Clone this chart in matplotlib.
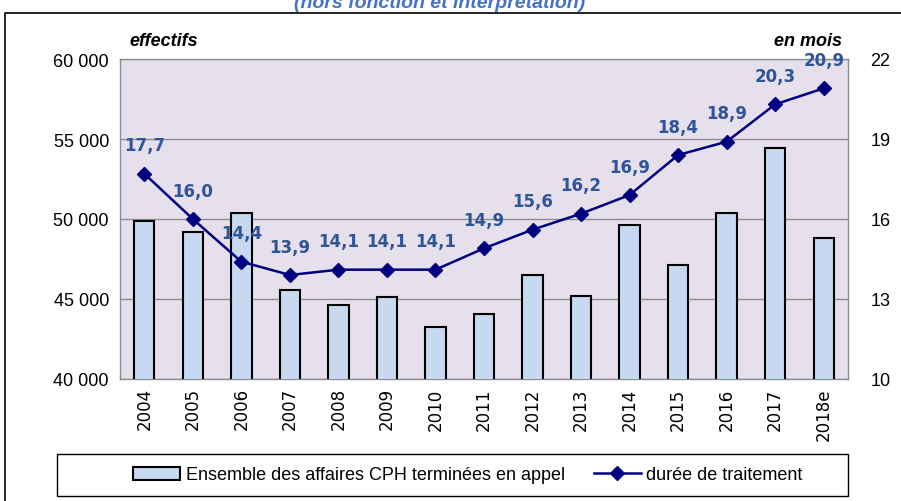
import matplotlib
matplotlib.use("Agg")
import matplotlib.pyplot as plt
from matplotlib.lines import Line2D
from matplotlib.patches import Patch, Rectangle

years = ["2004", "2005", "2006", "2007", "2008", "2009", "2010", "2011",
         "2012", "2013", "2014", "2015", "2016", "2017", "2018e"]
affaires = [49850, 49200, 50350, 45550, 44650, 45100, 43250, 44050,
            46500, 45200, 49600, 47100, 50350, 54450, 48800]
duree = [17.7, 16.0, 14.4, 13.9, 14.1, 14.1, 14.1, 14.9,
         15.6, 16.2, 16.9, 18.4, 18.9, 20.3, 20.9]
left_ticks = [40000, 45000, 50000, 55000, 60000]
right_ticks = [10, 13, 16, 19, 22]

W, H = 901, 502
fig = plt.figure(figsize=(W / 100, H / 100), dpi=100)
ax = fig.add_axes([120 / W, 1 - 380 / H, 728 / W, 320 / H])
ax.set_facecolor("#E6E0EC")

x = list(range(len(years)))
ax.bar(x, affaires, width=0.42, color="#C6D9F1", edgecolor="black",
       linewidth=1.5, zorder=3)
ax.set_xlim(-0.5, len(years) - 0.5)
ax.set_ylim(40000, 60000)
ax.set_yticks(left_ticks)
ax.set_yticklabels([f"{v:,}".replace(",", " ") for v in left_ticks],
                   fontsize=13, family="Liberation Sans")
ax.yaxis.grid(True, color="#8C8C8C", linewidth=1, zorder=0)
ax.set_axisbelow(True)
ax.set_xticks(x)
ax.set_xticklabels(years, rotation=90, fontsize=12, family="DejaVu Sans")
ax.tick_params(axis="both", length=0, pad=8)
ax.tick_params(axis="x", pad=6)
for s in ["top", "right", "left", "bottom"]:
    ax.spines[s].set_color("#8C8C8C")
    ax.spines[s].set_linewidth(1.0)

ax2 = ax.twinx()
ax2.set_ylim(10, 22)
ax2.set_yticks(right_ticks)
ax2.set_yticklabels([str(v) for v in right_ticks], fontsize=13,
                    family="Liberation Sans")
ax2.tick_params(axis="y", length=0, pad=16)
for s in ["top", "right", "left", "bottom"]:
    ax2.spines[s].set_visible(False)
ax2.plot(x, duree, color="#000080", linewidth=1.8, marker="D",
         markersize=7, zorder=5)
for xi, v in zip(x, duree):
    ax2.annotate(f"{v:.1f}".replace(".", ","), (xi, v), xytext=(0, 14),
                 textcoords="offset points", ha="center", va="bottom",
                 fontsize=12, fontweight="bold", color="#2F5597",
                 family="DejaVu Sans", zorder=6)

fig.text(198 / W, 1 - 42 / H, "effectifs", fontsize=13, fontweight="bold",
         style="italic", ha="right", va="center", family="Liberation Sans")
fig.text(842 / W, 1 - 42 / H, "en mois", fontsize=13, fontweight="bold",
         style="italic", ha="right", va="center", family="Liberation Sans")
fig.text(440 / W, 1 - 12 / H, "(hors fonction et interprétation)", fontsize=14,
         fontweight="bold", style="italic", ha="center", va="bottom",
         color="#4472C4", family="Liberation Sans")

# outer frame
fig.patches.append(Rectangle((5 / W, -0.01), 1.05, 1 - 14 / H + 0.01,
                             transform=fig.transFigure, fill=False,
                             edgecolor="black", linewidth=1.2))
# legend box
fig.patches.append(Rectangle((57 / W, 1 - 497 / H), 791 / W, 42 / H,
                             transform=fig.transFigure, fill=False,
                             edgecolor="black", linewidth=1.0))

handles = [Patch(facecolor="#C6D9F1", edgecolor="black", linewidth=1.5),
           Line2D([], [], color="#000080", marker="D", markersize=7,
                  linewidth=1.8)]
leg = fig.legend(handles, ["Ensemble des affaires CPH terminées en appel",
                           "durée de traitement"],
                 loc="center", bbox_to_anchor=(468 / W, 1 - 476 / H),
                 ncol=2, frameon=False, handlelength=2.6, handletextpad=0.3,
                 columnspacing=1.6,
                 prop={"family": "Liberation Sans", "size": 13})

fig.savefig("out.png", dpi=100)
